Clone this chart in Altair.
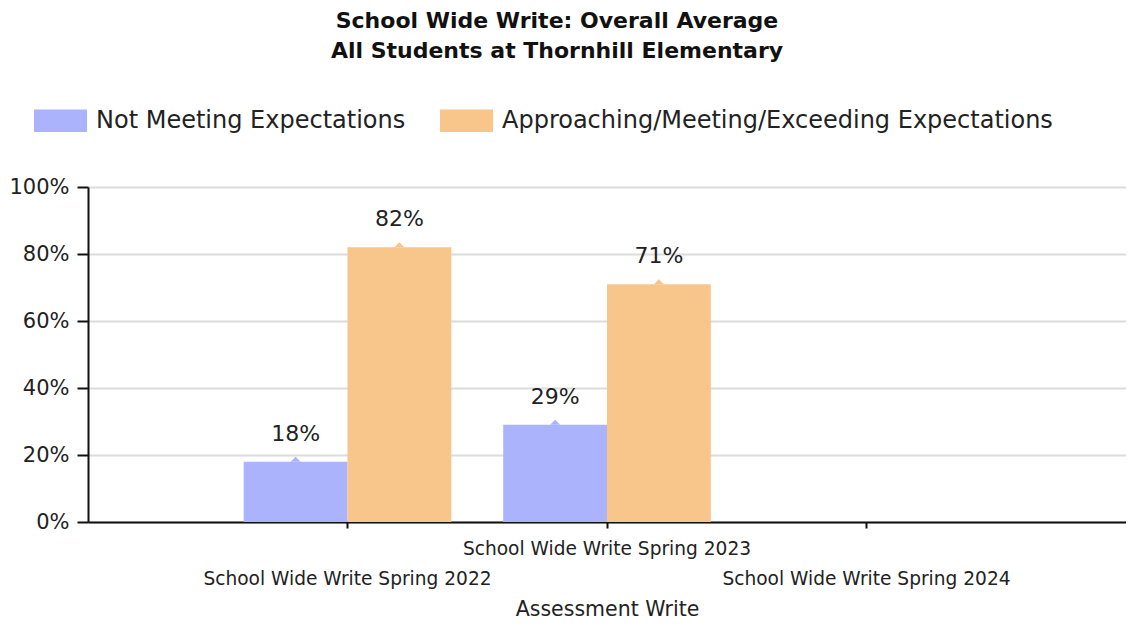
import altair as alt
import pandas as pd

assessments = [
    "School Wide Write Spring 2022",
    "School Wide Write Spring 2023",
    "School Wide Write Spring 2024",
]
series = ["Not Meeting Expectations", "Approaching/Meeting/Exceeding Expectations"]
not_meeting = [0.18, 0.29, None]
approaching = [0.82, 0.71, None]
colors = ["#abb3fc", "#f8c68b"]
y_ticks = [0, 0.2, 0.4, 0.6, 0.8, 1.0]

rows = []
for a, nm, ap in zip(assessments, not_meeting, approaching):
    if nm is not None:
        rows.append({"Assessment": a, "Series": series[0], "Value": nm})
    if ap is not None:
        rows.append({"Assessment": a, "Series": series[1], "Value": ap})
df = pd.DataFrame(rows)

FONT = "DejaVu Sans"

base = alt.Chart(df).encode(
    x=alt.X(
        "Assessment:N",
        scale=alt.Scale(domain=assessments, paddingInner=0.2, paddingOuter=0.6),
        axis=alt.Axis(
            title="Assessment Write",
            labelAngle=0,
            labelExpr="indexof(datum.label, '2023') >= 0 ? [datum.label, ''] : ['', datum.label]",
            labelLineHeight=30,
            labelFont=FONT,
            labelFontSize=18.6,
            labelColor="#222222",
            labelOverlap=False,
            labelLimit=0,
            labelPadding=11,
            tickSize=6,
            tickWidth=2,
            tickColor="#111111",
            domainColor="#111111",
            domainWidth=2,
            titleFont=FONT,
            titleFontSize=20.5,
            titleFontWeight="normal",
            titleColor="#222222",
            titlePadding=12,
            grid=False,
        ),
    ),
    xOffset=alt.XOffset("Series:N", scale=alt.Scale(domain=series)),
    y=alt.Y(
        "Value:Q",
        scale=alt.Scale(domain=[0, 1]),
        axis=alt.Axis(
            title=None,
            values=y_ticks,
            format=".0%",
            labelFont=FONT,
            labelFontSize=21,
            labelColor="#222222",
            labelPadding=8,
            tickSize=11,
            tickWidth=2,
            tickColor="#111111",
            domainColor="#111111",
            domainWidth=2,
            gridColor="#dcdcdc",
            gridWidth=2,
        ),
    ),
    color=alt.Color(
        "Series:N",
        scale=alt.Scale(domain=series, range=colors),
        legend=alt.Legend(
            title=None,
            orient="none",
            legendX=-54,
            legendY=-93,
            direction="horizontal",
            symbolType="M-1,-0.42H1V0.42H-1Z",
            symbolSize=2809,
            symbolStrokeWidth=0,
            symbolOpacity=1,
            labelFont=FONT,
            labelFontSize=24,
            labelColor="#222222",
            labelOffset=9,
            labelLimit=0,
            columnPadding=34,
        ),
    ),
)

bars = base.mark_bar(opacity=1)
notch = base.mark_point(shape="M-1,0L0,-1L1,0Z", filled=True, size=100, opacity=1, strokeWidth=0)
labels = base.mark_text(baseline="bottom", dy=-16, font=FONT, fontSize=22).encode(
    text=alt.Text("Value:Q", format=".0%"),
    color=alt.value("#222222"),
)

chart = (
    alt.layer(bars, notch, labels)
    .properties(
        width=1038,
        height=335,
        padding={"left": 0, "top": 2, "right": 0, "bottom": 0},
        title=alt.TitleParams(
            ["School Wide Write: Overall Average", "All Students at Thornhill Elementary"],
            font=FONT,
            fontSize=22,
            fontWeight="bold",
            lineHeight=30,
            anchor="middle",
            dx=-50,
            color="#111111",
            offset=31,
        ),
    )
    .configure_view(stroke=None)
)

chart.save("out.html", embed_options={"renderer": "svg", "actions": False})
